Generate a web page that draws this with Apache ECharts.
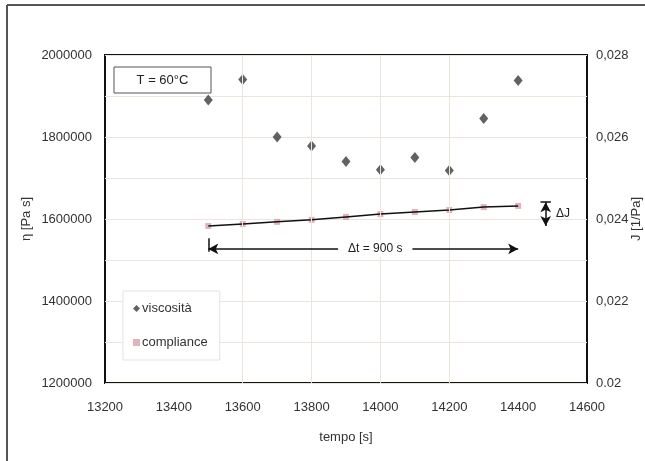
<!DOCTYPE html>
<html>
<head>
<meta charset="utf-8">
<script src="https://cdn.jsdelivr.net/npm/echarts@6/dist/echarts.min.js"></script>
<style>
html,body{margin:0;padding:0;background:#fff;}
#c{width:645px;height:461px;}
</style>
</head>
<body>
<div id="c"></div>
<script>
// ---- data ----
var tempo = [13500, 13600, 13700, 13800, 13900, 14000, 14100, 14200, 14300, 14400];
var viscosita = [1890000, 1940000, 1800000, 1778000, 1740000, 1720000, 1750000, 1718000, 1845000, 1938000];
var compliance = [0.02383, 0.02388, 0.02393, 0.02398, 0.02405, 0.02412, 0.02417, 0.02422, 0.02429, 0.02432];
var xTickLabels = ['13200', '13400', '13600', '13800', '14000', '14200', '14400', '14600'];
var leftTickLabels = ['1200000', '1400000', '1600000', '1800000', '2000000'];
var rightTickLabels = ['0.02', '0,022', '0,024', '0,026', '0,028'];
var vGridX = [13600, 13800, 14000, 14200];
var deltaT = { x0: 13500, x1: 14400, y: 0.02327, barTop: 0.02353, barBottom: 0.02320, text: '\u0394t = 900 s', textX: 13985 };
var deltaJ = { x: 14480, y0: 0.02441, y1: 0.02383, text: '\u0394J', textX: 14530, textY: 0.02413 };

var font = 'Liberation Sans, Arial, sans-serif';
var txtColor = '#333';
var gridColor = '#ebe5db';

var chart = echarts.init(document.getElementById('c'), null, {renderer: 'canvas'});

var vGridData = vGridX.map(function (v) { return { xAxis: v }; });

var option = {
  backgroundColor: '#fff',
  animation: false,
  textStyle: { fontFamily: font },
  grid: { left: 105, right: 58, top: 55, bottom: 78, containLabel: false, outerBoundsMode: 'none',
    show: true, borderColor: '#111', borderWidth: 2, backgroundColor: 'transparent' },
  legend: {
    orient: 'vertical', left: 123, top: 291,
    backgroundColor: '#fff', borderColor: '#e3e3e3', borderWidth: 1,
    padding: [11, 12, 11, 10], itemGap: 21, itemWidth: 7, itemHeight: 7,
    textStyle: { fontSize: 13, color: txtColor, fontFamily: font, padding: [0, 0, 0, -3] },
    data: [
      { name: 'viscosità', icon: 'diamond', itemStyle: { color: '#3b3b3b' } },
      { name: 'compliance', icon: 'rect', itemStyle: { color: '#d9a0ab' } }
    ]
  },
  xAxis: {
    type: 'value', min: 13200, max: 14600, interval: 200,
    name: 'tempo [s]', nameLocation: 'middle', nameGap: 48, nameMoveOverlap: false,
    nameTextStyle: { fontSize: 13, color: txtColor, fontFamily: font },
    axisLine: { show: false }, axisTick: { show: false }, splitLine: { show: false },
    axisLabel: { fontSize: 13, color: txtColor, margin: 18, fontFamily: font,
      formatter: function (v, i) { return xTickLabels[i]; } }
  },
  yAxis: [
    {
      type: 'value', min: 1200000, max: 2000000, interval: 200000,
      name: 'η [Pa s]', nameLocation: 'middle', nameGap: 72, nameRotate: 90, nameMoveOverlap: false,
      nameTextStyle: { fontSize: 13, color: txtColor, fontFamily: font },
      axisLine: { show: false }, axisTick: { show: false },
      axisLabel: { fontSize: 13, color: txtColor, margin: 13, fontFamily: font,
        formatter: function (v, i) { return leftTickLabels[i]; } },
      splitLine: { show: true, lineStyle: { color: gridColor, width: 1 } },
      minorTick: { show: false, splitNumber: 2 },
      minorSplitLine: { show: true, lineStyle: { color: gridColor, width: 1 } }
    },
    {
      type: 'value', min: 0.02, max: 0.028, interval: 0.002,
      name: 'J [1/Pa]', nameLocation: 'middle', nameGap: 43, nameRotate: 90, nameMoveOverlap: false,
      nameTextStyle: { fontSize: 13, color: txtColor, fontFamily: font },
      axisLine: { show: false }, axisTick: { show: false }, splitLine: { show: false },
      axisLabel: { fontSize: 13, color: txtColor, margin: 9, fontFamily: font,
        formatter: function (v, i) { return rightTickLabels[i]; } }
    }
  ],
  graphic: [
    { type: 'line', shape: { x1: 7, y1: 5, x2: 645, y2: 5 }, style: { stroke: '#555', lineWidth: 2 } },
    { type: 'line', shape: { x1: 7, y1: 5, x2: 7, y2: 461 }, style: { stroke: '#555', lineWidth: 2 } },
    { type: 'rect', shape: { x: 114, y: 67, width: 97, height: 26 }, style: { fill: '#fff', stroke: '#555', lineWidth: 1 }, z: 10 },
    { type: 'text', x: 162.5, y: 80, style: { text: 'T = 60°C', font: '13px ' + font, fill: '#222', textAlign: 'center', textVerticalAlign: 'middle' }, z: 11 }
  ],
  series: [
    {
      name: 'grid-v', type: 'line', data: [], silent: true, z: 0,
      markLine: { silent: true, symbol: 'none', label: { show: false },
        lineStyle: { color: gridColor, width: 1, type: 'solid' }, data: vGridData }
    },
    {
      name: 'viscosità', type: 'scatter', yAxisIndex: 0, symbol: 'diamond', symbolSize: [9, 11],
      itemStyle: { color: '#3b3b3b' }, z: 3,
      data: tempo.map(function (t, i) { return [t, viscosita[i]]; })
    },
    {
      name: 'compliance', type: 'scatter', yAxisIndex: 1, symbol: 'rect', symbolSize: 6,
      itemStyle: { color: '#d9a0ab' }, z: 3,
      data: tempo.map(function (t, i) { return [t, compliance[i]]; })
    },
    {
      name: 'trend', type: 'line', yAxisIndex: 1, showSymbol: false, symbol: 'none', z: 4,
      lineStyle: { color: '#111', width: 1.5 },
      data: tempo.map(function (t, i) { return [t, compliance[i]]; }),
      markLine: {
        silent: true, label: { show: false }, lineStyle: { color: '#111', width: 1.5, type: 'solid' },
        symbolSize: [8, 10],
        data: [
          [{ coord: [deltaT.x0, deltaT.y], symbol: 'arrow' }, { coord: [deltaT.x1, deltaT.y], symbol: 'arrow' }],
          [{ coord: [deltaT.x0, deltaT.barTop], symbol: 'none' }, { coord: [deltaT.x0, deltaT.barBottom], symbol: 'none' }],
          [{ coord: [deltaJ.x, deltaJ.y0], symbol: 'arrow' }, { coord: [deltaJ.x, deltaJ.y1], symbol: 'arrow' }],
          [{ coord: [deltaJ.x - 15, deltaJ.y0], symbol: 'none' }, { coord: [deltaJ.x + 15, deltaJ.y0], symbol: 'none' }]
        ]
      },
      markPoint: {
        silent: true, symbol: 'rect', symbolSize: 0,
        data: [
          { coord: [deltaT.textX, deltaT.y], label: { show: true, formatter: deltaT.text, position: 'inside', fontSize: 12, color: '#222', backgroundColor: '#fff', padding: [2, 10], fontFamily: font } },
          { coord: [deltaJ.textX, deltaJ.textY], label: { show: true, formatter: deltaJ.text, position: 'inside', fontSize: 12, color: '#222', fontFamily: font } }
        ]
      }
    }
  ]
};
chart.setOption(option);
</script>
</body>
</html>
